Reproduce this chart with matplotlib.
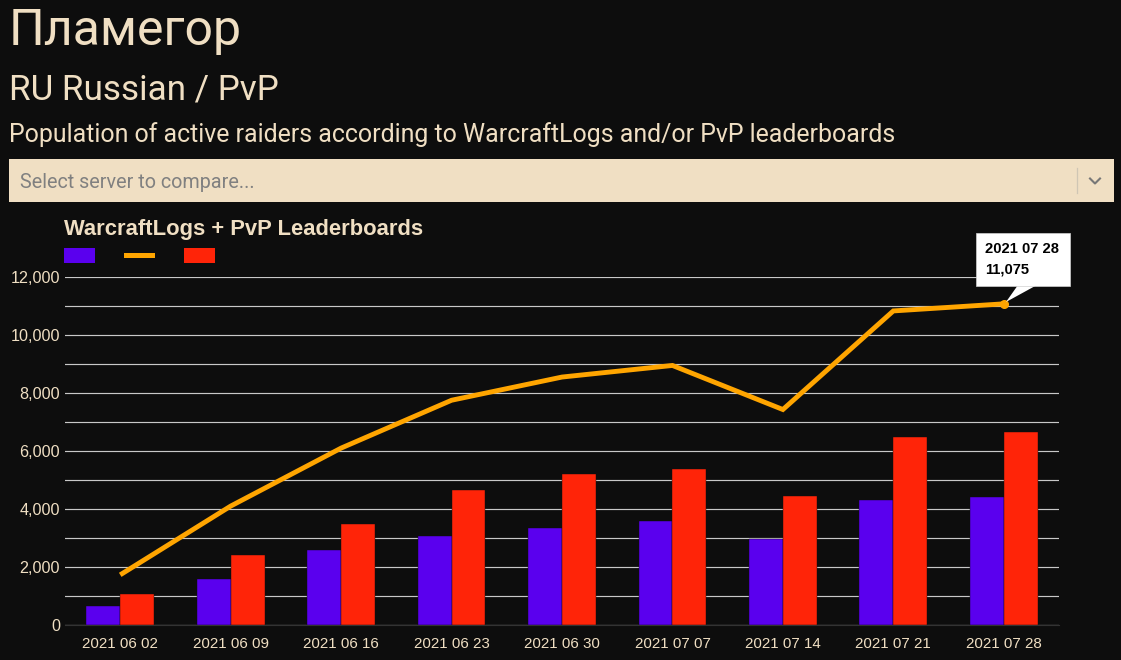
import matplotlib
matplotlib.use("Agg")
import matplotlib.pyplot as plt
from matplotlib.patches import Rectangle, Polygon
from matplotlib.ticker import FuncFormatter
import numpy as np

weeks = ["2021 06 02", "2021 06 09", "2021 06 16", "2021 06 23", "2021 06 30",
         "2021 07 07", "2021 07 14", "2021 07 21", "2021 07 28"]
logs = [640, 1600, 2570, 3080, 3330, 3570, 2980, 4320, 4420]
pvp = [1080, 2430, 3500, 4640, 5220, 5380, 4450, 6500, 6650]
total = [1730, 4100, 6100, 7750, 8550, 8950, 7430, 10830, 11075]

W, H = 1121, 660
BG = "#0d0d0d"
CREAM = "#f0dfc3"
PURPLE = "#5a00ee"
ORANGE = "#ffa500"
RED = "#ff2408"
CHART_FONT = ["Liberation Sans", "DejaVu Sans"]
HEAD_FONT = ["Roboto", "DejaVu Sans"]

fig = plt.figure(figsize=(W / 100, H / 100), dpi=100, facecolor=BG)

# chart axes
ax = fig.add_axes([65 / W, 1 - 625 / H, (1059 - 65) / W, 348 / H], facecolor=BG)
x = np.arange(len(weeks))
bw = 0.307
ax.set_axisbelow(True)
ax.yaxis.grid(True, which="both", color="#c8c8c8", lw=0.85)
ax.xaxis.grid(False)
ax.bar(x - bw / 2, logs, bw, color=PURPLE, edgecolor="#0d0d0d", lw=0.3, zorder=2)
ax.bar(x + bw / 2, pvp, bw, color=RED, edgecolor="#0d0d0d", lw=0.3, zorder=2)
ax.plot(x, total, color=ORANGE, lw=3.5, solid_joinstyle="miter", solid_capstyle="butt", zorder=3)
ax.plot(x[-1:], total[-1:], "o", color=ORANGE, ms=5.5, zorder=4)
ax.set_xlim(-0.5, len(weeks) - 0.5)
ax.set_ylim(0, 12000)
ax.set_yticks(range(0, 12001, 2000))
ax.set_yticks(range(1000, 12000, 2000), minor=True)
ax.yaxis.set_major_formatter(FuncFormatter(lambda v, _: f"{int(v):,}"))
ax.set_xticks(x)
ax.set_xticklabels(weeks)
ax.tick_params(axis="both", which="both", length=0, labelcolor=CREAM)
ax.tick_params(axis="y", labelsize=11.6, pad=3.5)
ax.tick_params(axis="x", labelsize=10.9, pad=8.5)
for lab in ax.get_xticklabels() + ax.get_yticklabels():
    lab.set_fontfamily(CHART_FONT)
for name, sp in ax.spines.items():
    sp.set_visible(name == "bottom")
ax.spines["bottom"].set_color("#333333")
ax.spines["bottom"].set_linewidth(0.8)

# overlay in pixel coordinates
ov = fig.add_axes([0, 0, 1, 1], facecolor="none", zorder=5)
ov.set_xlim(0, W)
ov.set_ylim(H, 0)
ov.axis("off")

ov.text(9, 31, "Пламегор", color=CREAM, fontsize=36, family=HEAD_FONT, va="center", ha="left")
ov.text(9, 90, "RU Russian / PvP", color=CREAM, fontsize=25.2, family=HEAD_FONT, va="center", ha="left")
ov.text(9, 135, "Population of active raiders according to WarcraftLogs and/or PvP leaderboards",
        color=CREAM, fontsize=17.92, family=HEAD_FONT, va="center", ha="left")

# server select box
ov.add_patch(Rectangle((9, 159), 1105, 43, fc="#f0dfc3", ec="none"))
ov.text(20, 182, "Select server to compare...", color="#808080", fontsize=14.2, family=HEAD_FONT,
        va="center", ha="left")
ov.plot([1076.5, 1076.5], [168, 193], color="#cfc6b4", lw=0.9)
ov.plot([1090, 1095, 1100], [178.5, 183.5, 178.5], color="#777777", lw=1.5)

# chart title and legend
ov.text(64, 229, "WarcraftLogs + PvP Leaderboards", color=CREAM, fontsize=15.8, weight="bold",
        family=CHART_FONT, va="center", ha="left")
ov.add_patch(Rectangle((64, 248), 30.5, 15, fc=PURPLE, ec="none"))
ov.add_patch(Rectangle((124, 253), 30.5, 5, fc=ORANGE, ec="none"))
ov.add_patch(Rectangle((184, 248), 30.5, 15, fc=RED, ec="none"))

# tooltip
ov.add_patch(Polygon([(1006, 302), (1018, 285), (1037, 285)], closed=True, fc="white", ec="none"))
ov.add_patch(Rectangle((976, 233), 94, 53, fc="white", ec="#d0d0d0", lw=0.5))
ov.text(985, 249, weeks[-1], color="black", fontsize=10.6, weight="bold", family=CHART_FONT,
        va="center", ha="left")
ov.text(985, 269, f"{total[-1]:,}", color="black", fontsize=10.6, weight="bold", family=CHART_FONT,
        va="center", ha="left")

fig.savefig("out.png", dpi=100, facecolor=BG)
